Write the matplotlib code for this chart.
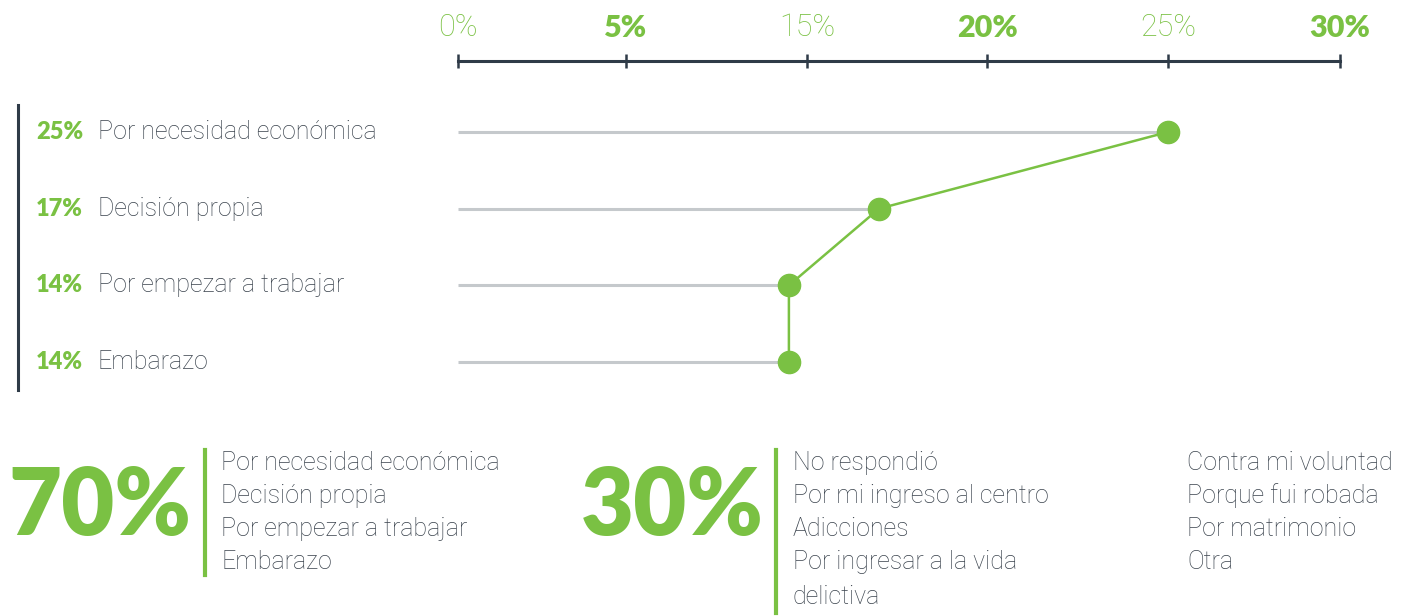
import matplotlib
matplotlib.use("Agg")
import matplotlib.pyplot as plt
import numpy as np
from matplotlib.lines import Line2D

# ---- data ----
categories = ["Por necesidad económica", "Decisión propia",
              "Por empezar a trabajar", "Embarazo"]
values = [25, 17, 14, 14]
value_labels = ["25%", "17%", "14%", "14%"]
tick_values = [0, 5, 15, 20, 25, 30]
tick_labels = ["0%", "5%", "15%", "20%", "25%", "30%"]
tick_bold = [False, True, False, True, False, True]

group1_total = "70%"
group1_items = ["Por necesidad económica", "Decisión propia",
                "Por empezar a trabajar", "Embarazo"]
group2_total = "30%"
group2_items_col1 = ["No respondió", "Por mi ingreso al centro", "Adicciones",
                     "Por ingresar a la vida\ndelictiva"]
group2_items_col2 = ["Contra mi voluntad", "Porque fui robada",
                     "Por matrimonio", "Otra"]

# ---- style ----
GREEN = "#7ac143"
DARK = "#2f3b48"
TEXT = "#3a434d"
GREY = "#c5c9cc"
BOLD = "Lato"
THIN = "Roboto"

W, H = 1413, 616
fig = plt.figure(figsize=(W / 100, H / 100), dpi=100)

def fx(px):
    return px / W

def fy(py):
    return 1 - py / H

ax = fig.add_axes([fx(458), fy(390), fx(1340 - 458), fy(61) - fy(390)])

tick_pos = np.array([0.0, 168, 349, 529, 710, 882])
def fwd(v):
    return np.interp(v, tick_values, tick_pos)
def inv(p):
    return np.interp(p, tick_pos, tick_values)
ax.set_xscale("function", functions=(fwd, inv))
ax.set_xlim(0, 30)

n = len(categories)
y = np.arange(n)
row_px = 76.7
ax.set_ylim((390 - 132) / row_px, -(132 - 61) / row_px)

for s in ["left", "right", "bottom"]:
    ax.spines[s].set_visible(False)
ax.spines["top"].set_color(DARK)
ax.spines["top"].set_linewidth(2.2)
ax.xaxis.set_ticks_position("top")
ax.set_xticks(tick_values)
ax.set_xticklabels(tick_labels)
ax.tick_params(axis="x", direction="inout", length=10, width=1.8, color=DARK,
               pad=9, labelsize=22, labelcolor=GREEN)
for lab, b in zip(ax.get_xticklabels(), tick_bold):
    if b:
        lab.set_fontfamily(BOLD)
        lab.set_fontweight("heavy")
    else:
        lab.set_fontfamily(THIN)
        lab.set_fontweight("light")
ax.set_yticks([])

ax.hlines(y, 0, values, color=GREY, lw=2.2, zorder=1)
ax.plot(values, y, color=GREEN, lw=1.8, marker="o", ms=16, zorder=3)

for i in range(n):
    ax.annotate(value_labels[i], xy=(fx(83), y[i]),
                xycoords=(fig.transFigure, ax.transData),
                ha="right", va="center", fontsize=17, fontweight="heavy",
                color=GREEN, family=BOLD, annotation_clip=False)
    ax.annotate(categories[i], xy=(fx(98), y[i]),
                xycoords=(fig.transFigure, ax.transData),
                ha="left", va="center", fontsize=18, fontweight="light",
                color=TEXT, family=THIN, annotation_clip=False)

fig.add_artist(Line2D([fx(18), fx(18)], [fy(105), fy(390)], color=DARK, lw=2.2))

line_h = 33
fig.text(fx(100), fy(508), group1_total, ha="center", va="center",
         fontsize=66, fontweight="heavy", color=GREEN, family=BOLD)
fig.add_artist(Line2D([fx(205), fx(205)], [fy(450), fy(575)], color=GREEN, lw=3))
for k, t in enumerate(group1_items):
    fig.text(fx(221), fy(463 + k * line_h), t, ha="left", va="center",
             fontsize=18, fontweight="light", color=TEXT, family=THIN)

fig.text(fx(672), fy(508), group2_total, ha="center", va="center",
         fontsize=66, fontweight="heavy", color=GREEN, family=BOLD)
fig.add_artist(Line2D([fx(776), fx(776)], [fy(450), fy(613)], color=GREEN, lw=3))
for k, t in enumerate(group2_items_col1):
    lines = t.split("\n")
    for j, part in enumerate(lines):
        fig.text(fx(793), fy(463 + (k + j) * line_h + j * 2), part, ha="left",
                 va="center", fontsize=18, fontweight="light", color=TEXT,
                 family=THIN)
for k, t in enumerate(group2_items_col2):
    fig.text(fx(1187), fy(463 + k * line_h), t, ha="left", va="center",
             fontsize=18, fontweight="light", color=TEXT, family=THIN)

fig.savefig("out.png", dpi=100, facecolor="white")
